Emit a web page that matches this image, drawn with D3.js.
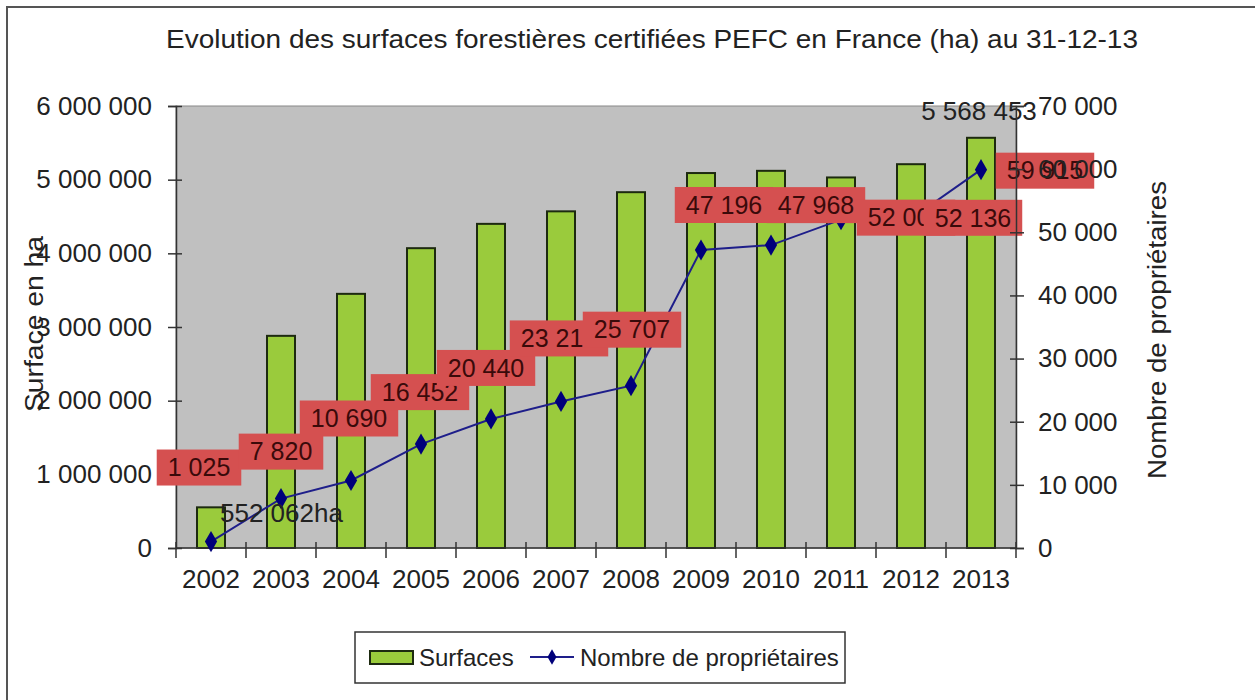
<!DOCTYPE html>
<html>
<head>
<meta charset="utf-8">
<script src="https://cdn.jsdelivr.net/npm/d3@7"></script>
<style>
  body { margin: 0; background: #fff; }
  svg { display: block; font-family: "Liberation Sans", Arial, sans-serif; }
</style>
</head>
<body>
<div id="chart"></div>
<script>

// data
const years = ["2002","2003","2004","2005","2006","2007","2008","2009","2010","2011","2012","2013"] ;
const surfaces = [552062, 2880000, 3450000, 4070000, 4400000, 4570000, 4830000, 5090000, 5120000, 5030000, 5210000, 5568453] ;
const proprietaires = [1025, 7820, 10690, 16452, 20440, 23213, 25707, 47196, 47968, 52000, 52136, 59915] ;
const leftTicks = [0, 1000000, 2000000, 3000000, 4000000, 5000000, 6000000] ;
const rightTicks = [0, 10000, 20000, 30000, 40000, 50000, 60000, 70000] ;

// label placement relative to the point (layout only)
const labelDx = [-12, 0, -2, -1, -5, -2, 1, 23, 45, 65, 62, 64] ;
const labelDy = [-74, -47, -62, -52, -51, -63, -56, -45, -40, -2, -1, 1] ;

const width = 1255, height = 700 ;
const plot = { left: 176, right: 1016, top: 106, bottom: 548 } ;
const numSize = 26 ;

const fr = d3.formatLocale({ decimal: ",", thousands: "\u00a0", grouping: [3], currency: ["", ""] }) ;
const fmt = fr.format(",d") ;

const svg = d3.select("#chart").append("svg")
	.attr("width", width)
	.attr("height", height) ;

// outer frame
svg.append("rect")
	.attr("x", 7).attr("y", 7)
	.attr("width", 1300).attr("height", 750)
	.attr("fill", "#fff")
	.attr("stroke", "#555")
	.attr("stroke-width", 2) ;

svg.append("text")
	.attr("x", 652).attr("y", 48)
	.attr("text-anchor", "middle")
	.attr("font-size", 26)
	.attr("textLength", 972)
	.attr("lengthAdjust", "spacingAndGlyphs")
	.attr("fill", "#222")
	.text("Evolution des surfaces forestières certifiées PEFC en France (ha) au 31-12-13") ;

const x = d3.scaleBand().domain(years).range([plot.left, plot.right]).paddingInner(0).paddingOuter(0) ;
const yL = d3.scaleLinear().domain([0, 6000000]).range([plot.bottom, plot.top]) ;
const yR = d3.scaleLinear().domain([0, 70000]).range([plot.bottom, plot.top]) ;

svg.append("rect")
	.attr("x", plot.left).attr("y", plot.top)
	.attr("width", plot.right - plot.left).attr("height", plot.bottom - plot.top)
	.attr("fill", "#c0c0c0")
	.attr("stroke", "#888")
	.attr("stroke-width", 1) ;

// bars
const barW = 28 ;
svg.append("g").selectAll("rect")
	.data(surfaces)
	.enter().append("rect")
		.attr("x", function(d, i) { return x(years[i]) + x.bandwidth()/2 - barW/2 ; })
		.attr("y", function(d) { return yL(d) ; })
		.attr("width", barW)
		.attr("height", function(d) { return yL(0) - yL(d) ; })
		.attr("fill", "#9acb3c")
		.attr("stroke", "#1d2a10")
		.attr("stroke-width", 2) ;

// axes
const axL = svg.append("g").attr("transform", "translate(" + plot.left + ",0)")
	.call(d3.axisLeft(yL).tickValues(leftTicks).tickFormat(fmt).tickSize(8).tickPadding(16)) ;
const axR = svg.append("g").attr("transform", "translate(" + plot.right + ",0)")
	.call(d3.axisRight(yR).tickValues(rightTicks).tickFormat(fmt).tickSize(8).tickPadding(14)) ;
const axX = svg.append("g").attr("transform", "translate(0," + plot.bottom + ")")
	.call(d3.axisBottom(x).tickSize(0).tickPadding(22)) ;

axL.selectAll(".tick line").attr("x1", 6) ;
axR.selectAll(".tick line").attr("x1", -6) ;
[axL, axR, axX].forEach(function(a) {
	a.selectAll(".domain").attr("stroke", "#333").attr("stroke-width", 1.5) ;
	a.selectAll(".tick line").attr("stroke", "#333").attr("stroke-width", 1.5) ;
	a.selectAll("text").attr("font-size", numSize).attr("fill", "#222").attr("font-family", "Liberation Sans, Arial, sans-serif") ;
}) ;
axX.select(".domain").attr("d", "M" + plot.left + ",0H" + plot.right) ;

// category separators under the x axis
svg.append("g").selectAll("line")
	.data(years.concat(["end"]))
	.enter().append("line")
		.attr("x1", function(d, i) { return plot.left + i * x.bandwidth() ; })
		.attr("x2", function(d, i) { return plot.left + i * x.bandwidth() ; })
		.attr("y1", plot.bottom - 6)
		.attr("y2", plot.bottom + 10)
		.attr("stroke", "#333")
		.attr("stroke-width", 1.5) ;

// axis titles
svg.append("text")
	.attr("transform", "translate(43,324) rotate(-90)")
	.attr("text-anchor", "middle")
	.attr("font-size", 25)
	.attr("textLength", 176)
	.attr("lengthAdjust", "spacingAndGlyphs")
	.attr("fill", "#222")
	.text("Surface en ha") ;
svg.append("text")
	.attr("transform", "translate(1166,330) rotate(-90)")
	.attr("text-anchor", "middle")
	.attr("font-size", 25)
	.attr("textLength", 298)
	.attr("lengthAdjust", "spacingAndGlyphs")
	.attr("fill", "#222")
	.text("Nombre de propriétaires") ;

// line
const cx = function(d, i) { return x(years[i]) + x.bandwidth()/2 ; } ;
const line = d3.line()
	.x(function(d, i) { return cx(d, i) ; })
	.y(function(d) { return yR(d) ; }) ;

svg.append("path")
	.datum(proprietaires)
	.attr("d", line)
	.attr("fill", "none")
	.attr("stroke", "#1e1e8a")
	.attr("stroke-width", 2) ;

svg.append("g").selectAll("path")
	.data(proprietaires)
	.enter().append("path")
		.attr("d", d3.symbol().type(d3.symbolDiamond).size(130))
		.attr("transform", function(d, i) { return "translate(" + cx(d, i) + "," + yR(d) + ")" ; })
		.attr("fill", "#00007a") ;

// bar value labels (only first and last are shown)
svg.append("text")
	.attr("x", cx(surfaces[0], 0) + 9)
	.attr("y", yL(surfaces[0]) + 15)
	.attr("font-size", numSize).attr("fill", "#222")
	.text(fmt(surfaces[0]) + "ha") ;
svg.append("text")
	.attr("x", cx(surfaces[11], 11) - 2)
	.attr("y", yL(surfaces[11]) - 18)
	.attr("text-anchor", "middle")
	.attr("font-size", numSize).attr("fill", "#222")
	.text(fmt(surfaces[11])) ;

// red data labels for the line
const lab = svg.append("g").selectAll("g")
	.data(proprietaires)
	.enter().append("g")
		.attr("transform", function(d, i) { return "translate(" + (cx(d, i) + labelDx[i]) + "," + (yR(d) + labelDy[i]) + ")" ; }) ;
lab.each(function(d) {
	const g = d3.select(this) ;
	const t = g.append("text")
		.attr("text-anchor", "middle")
		.attr("dy", "0.35em")
		.attr("font-size", 25)
		.attr("fill", "#3a0a0a")
		.text(fmt(d)) ;
	const w = t.node().getComputedTextLength() + 22 ;
	g.insert("rect", "text")
		.attr("x", -w/2).attr("y", -18)
		.attr("width", w).attr("height", 36)
		.attr("fill", "#d55050") ;
}) ;

// right tick labels sit above the red labels
axR.raise() ;

// legend
const leg = svg.append("g") ;
leg.append("rect")
	.attr("x", 355).attr("y", 632).attr("width", 490).attr("height", 51)
	.attr("fill", "#fff").attr("stroke", "#333").attr("stroke-width", 1.5) ;
leg.append("rect")
	.attr("x", 370).attr("y", 651).attr("width", 43).attr("height", 13)
	.attr("fill", "#9acb3c").attr("stroke", "#1d2a10").attr("stroke-width", 2) ;
leg.append("text")
	.attr("x", 419).attr("y", 666)
	.attr("font-size", 24).attr("fill", "#222")
	.text("Surfaces") ;
leg.append("line")
	.attr("x1", 530).attr("x2", 574).attr("y1", 657).attr("y2", 657)
	.attr("stroke", "#1e1e8a").attr("stroke-width", 2) ;
leg.append("path")
	.attr("d", d3.symbol().type(d3.symbolDiamond).size(70))
	.attr("transform", "translate(552,657)")
	.attr("fill", "#00007a") ;
leg.append("text")
	.attr("x", 580).attr("y", 666)
	.attr("font-size", 24).attr("fill", "#222")
	.text("Nombre de propriétaires") ;

</script>
</body>
</html>
